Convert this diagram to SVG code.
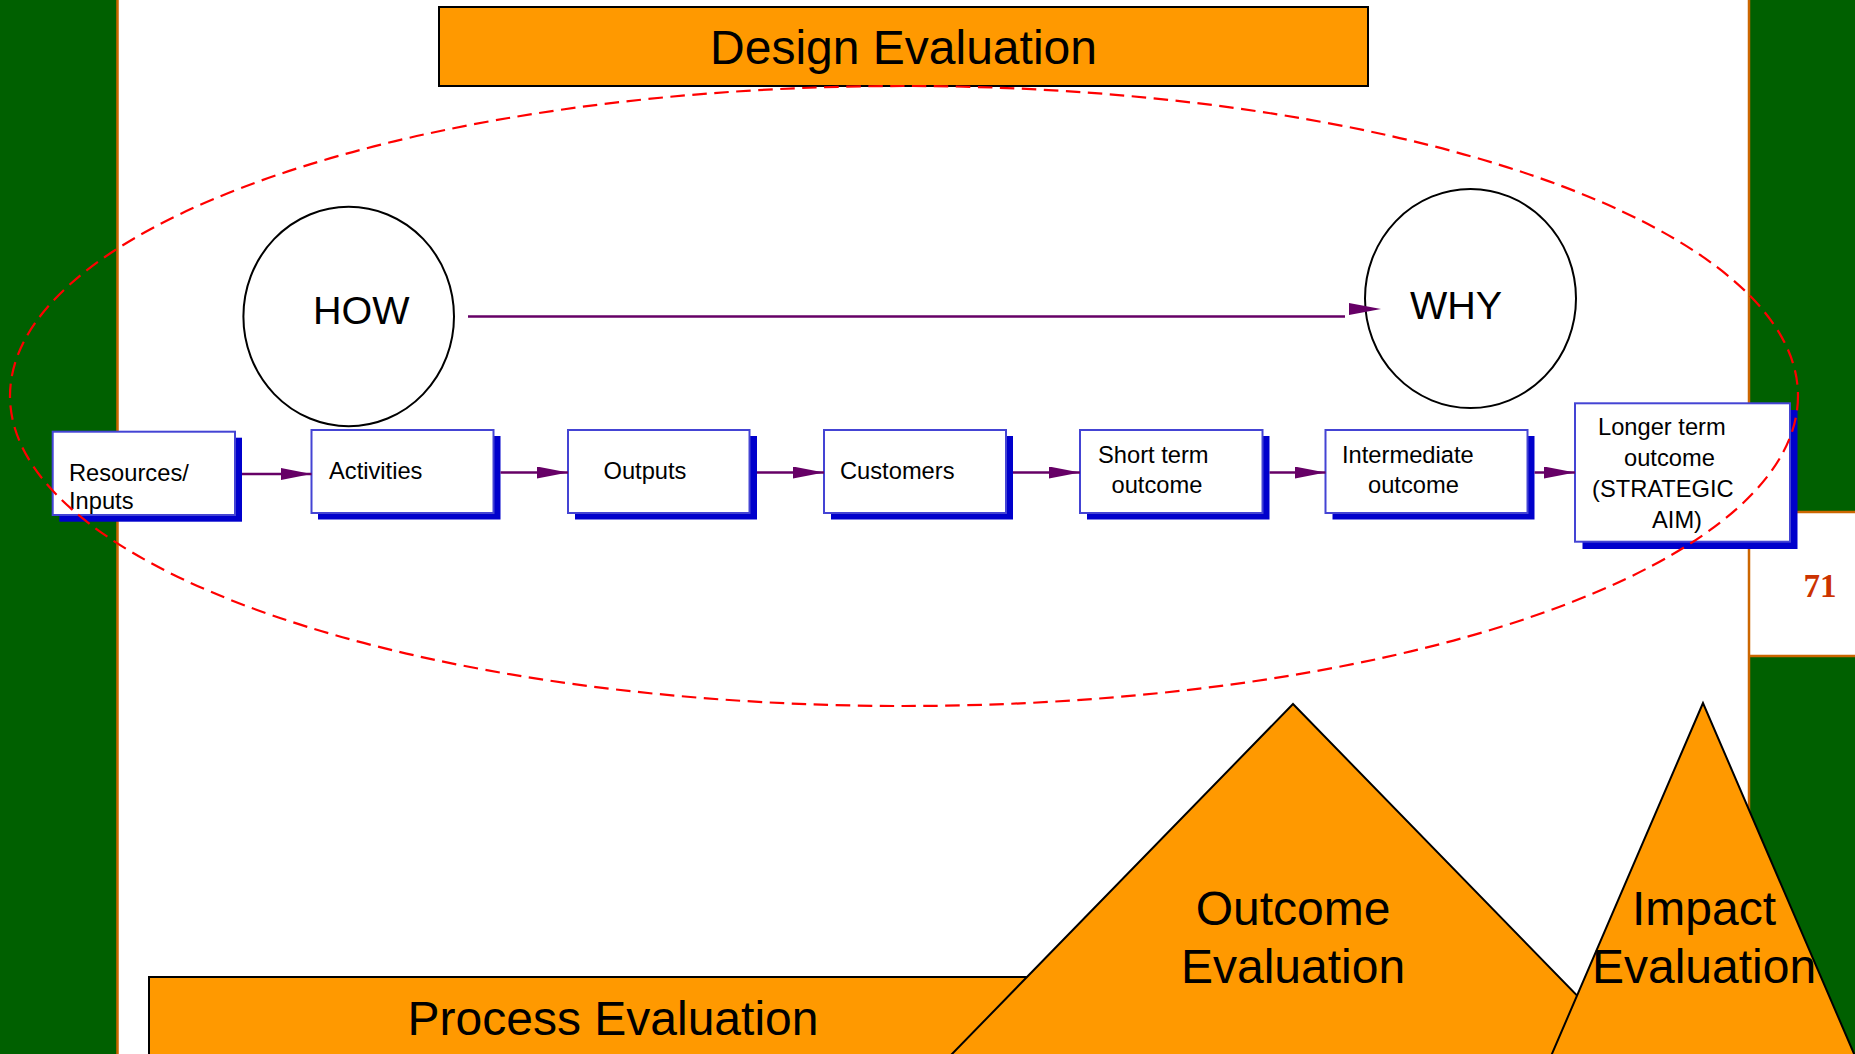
<svg xmlns="http://www.w3.org/2000/svg" width="1855" height="1054" viewBox="0 0 1855 1054">
<defs>
<style>
.t{font-family:"Liberation Sans",Arial,sans-serif;fill:#000}
.sm{font-size:23.7px}
.md{font-size:39.5px}
.lg{font-size:48px}
.box{fill:#fff;stroke:#4444D4;stroke-width:2}
.sh{fill:#0000CC}
.org{fill:#FF9900;stroke:#000;stroke-width:2}
.circ{fill:#fff;stroke:#000;stroke-width:2}
.conn{stroke:#660066;stroke-width:2.5;fill:none}
.green{fill:#006000}
.oline{stroke:#CC6600;stroke-width:2.5;fill:none}
</style>
<marker id="ah" markerUnits="userSpaceOnUse" viewBox="0 0 31 12" refX="31" refY="6" markerWidth="31" markerHeight="12" orient="auto">
<path d="M0,0 L31,6 L0,12 z" fill="#660066"/>
</marker>
</defs>

<g id="background">
<rect x="0" y="0" width="1855" height="1054" fill="#fff"/>
<rect class="green" x="0" y="0" width="117" height="1054"/>
<line class="oline" x1="117.5" y1="0" x2="117.5" y2="1054"/>
<rect class="green" x="1749" y="0" width="106" height="512"/>
<rect class="green" x="1749" y="656" width="106" height="398"/>
<line class="oline" x1="1749" y1="0" x2="1749" y2="1054"/>
<line class="oline" x1="1749" y1="512" x2="1855" y2="512"/>
<line class="oline" x1="1749" y1="656" x2="1855" y2="656"/>
<text x="1820" y="597" text-anchor="middle" font-family="'Liberation Serif','Times New Roman',serif" font-weight="bold" font-size="33" fill="#CC3300">71</text>
</g>

<g id="design-evaluation">
<rect class="org" x="439" y="7" width="929" height="79"/>
<text class="t lg" x="903.5" y="64" text-anchor="middle">Design Evaluation</text>
</g>

<g id="how">
<ellipse class="circ" cx="348.7" cy="316.5" rx="105.3" ry="109.7"/>
<text class="t md" x="313" y="324">HOW</text>
</g>

<g id="why">
<ellipse class="circ" cx="1470.5" cy="298.5" rx="105.5" ry="109.5"/>
<text class="t md" x="1410" y="319">WHY</text>
</g>

<g id="resources">
<rect class="sh" x="59.3" y="437.7" width="182.7" height="84"/>
<rect class="box" x="52.7" y="431.7" width="182.3" height="83.3"/>
<text class="t sm" x="69" y="481">Resources/</text>
<text class="t sm" x="69" y="508.5">Inputs</text>
</g>

<g id="activities">
<rect class="sh" x="318" y="436" width="182.5" height="83.5"/>
<rect class="box" x="311.5" y="430" width="182" height="83"/>
<text class="t sm" x="329" y="479">Activities</text>
</g>

<g id="outputs">
<rect class="sh" x="575" y="436" width="182" height="83.5"/>
<rect class="box" x="568" y="430" width="181.5" height="83"/>
<text class="t sm" x="603.5" y="479">Outputs</text>
</g>

<g id="customers">
<rect class="sh" x="831" y="436" width="182" height="83.5"/>
<rect class="box" x="824" y="430" width="182" height="83"/>
<text class="t sm" x="840" y="479">Customers</text>
</g>

<g id="short-term">
<rect class="sh" x="1087" y="436" width="182.5" height="83.5"/>
<rect class="box" x="1080" y="430" width="182.5" height="83"/>
<text class="t sm" x="1098" y="463">Short term</text>
<text class="t sm" x="1111.5" y="493">outcome</text>
</g>

<g id="intermediate">
<rect class="sh" x="1332.5" y="436" width="202" height="83.5"/>
<rect class="box" x="1325.5" y="430" width="202" height="83"/>
<text class="t sm" x="1342" y="463">Intermediate</text>
<text class="t sm" x="1368" y="493">outcome</text>
</g>

<g id="longer-term">
<rect class="sh" x="1582.5" y="410" width="215" height="139"/>
<rect class="box" x="1575" y="403.3" width="215" height="138.4"/>
<text class="t sm" x="1598" y="435">Longer term</text>
<text class="t sm" x="1624" y="466">outcome</text>
<text class="t sm" x="1592" y="497">(STRATEGIC</text>
<text class="t sm" x="1652" y="528">AIM)</text>
</g>

<g id="connectors">
<line class="conn" x1="468" y1="316.5" x2="1345" y2="316.5"/>
<path d="M1349,303 L1381,309 L1349,315 z" fill="#660066"/>
<line class="conn" x1="242" y1="474" x2="311.5" y2="474" marker-end="url(#ah)"/>
<line class="conn" x1="500.5" y1="472.5" x2="568" y2="472.5" marker-end="url(#ah)"/>
<line class="conn" x1="757" y1="472.5" x2="824" y2="472.5" marker-end="url(#ah)"/>
<line class="conn" x1="1013" y1="472.5" x2="1080" y2="472.5" marker-end="url(#ah)"/>
<line class="conn" x1="1269.5" y1="472.5" x2="1325.5" y2="472.5" marker-end="url(#ah)"/>
<line class="conn" x1="1534.5" y1="472.5" x2="1575" y2="472.5" marker-end="url(#ah)"/>
</g>

<g id="design-scope">
<ellipse cx="904" cy="396" rx="894" ry="310" fill="none" stroke="#FF0000" stroke-width="2.2" stroke-dasharray="14.5 7.5"/>
</g>

<g id="process-evaluation">
<rect class="org" x="149" y="977" width="1100" height="100"/>
<text class="t lg" x="613" y="1035" text-anchor="middle">Process Evaluation</text>
</g>

<g id="outcome-evaluation">
<polygon class="org" points="1293,704 936.4,1070 1649.6,1070"/>
<text class="t lg" x="1293" y="925" text-anchor="middle">Outcome</text>
<text class="t lg" x="1293" y="983" text-anchor="middle">Evaluation</text>
</g>

<g id="impact-evaluation">
<polygon class="org" points="1703,703 1545,1070 1861,1070"/>
<text class="t lg" x="1704" y="925" text-anchor="middle">Impact</text>
<text class="t lg" x="1704" y="983" text-anchor="middle">Evaluation</text>
</g>
</svg>
